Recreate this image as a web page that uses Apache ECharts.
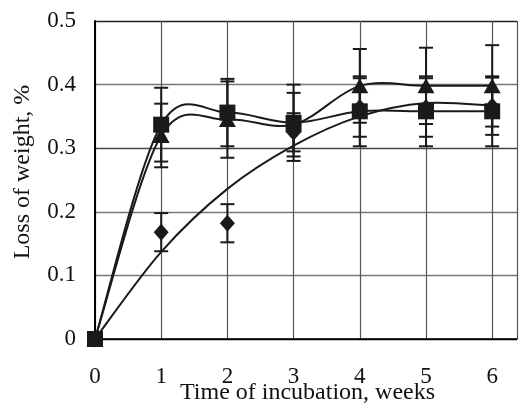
<!DOCTYPE html>
<html>
<head>
<meta charset="utf-8">
<script src="https://cdn.jsdelivr.net/npm/echarts@6/dist/echarts.min.js"></script>
<style>html,body{margin:0;padding:0;background:#fff}#c{width:520px;height:407px}</style>
</head>
<body>
<div id="c"></div>
<script>
const weeks = [0, 1, 2, 3, 4, 5, 6];
const squareVals = [0, 0.337, 0.356, 0.340, 0.358, 0.358, 0.358];
const squareErr = [0, 0.058, 0.053, 0.060, 0.055, 0.055, 0.055];
const triangleVals = [0, 0.320, 0.345, 0.337, 0.398, 0.398, 0.398];
const triangleErr = [0, 0.050, 0.060, 0.050, 0.058, 0.060, 0.064];
const diamondVals = [0, 0.168, 0.182, 0.325, 0.364, 0.364, 0.366];
const diamondErr = [0, 0.030, 0.030, 0.030, 0.046, 0.046, 0.045];
const trendWeeks = [0, 1, 2, 3, 4, 5, 6];
const trendVals = [0, 0.137, 0.236, 0.304, 0.350, 0.371, 0.367];
const yTicks = [0, 0.1, 0.2, 0.3, 0.4, 0.5];
const xTicks = [0, 1, 2, 3, 4, 5, 6];

const FONT = 'Liberation Serif';
const INK = '#1a1a1a';

function pts(xs, ys) { return xs.map((x, i) => [x, ys[i]]); }
function errData(xs, ys, es) {
  return xs.map((x, i) => [x, ys[i] - es[i], ys[i] + es[i]]).filter((d, i) => es[i] > 0);
}
function errSeries(data) {
  return {
    type: 'custom', data: data, z: 2, silent: true,
    renderItem: function (params, api) {
      const x = api.value(0);
      const lo = api.coord([x, api.value(1)]);
      const hi = api.coord([x, api.value(2)]);
      const w = 7;
      const st = { stroke: INK, lineWidth: 2 };
      return { type: 'group', children: [
        { type: 'line', shape: { x1: lo[0], y1: lo[1], x2: hi[0], y2: hi[1] }, style: st },
        { type: 'line', shape: { x1: lo[0] - w, y1: lo[1], x2: lo[0] + w, y2: lo[1] }, style: st },
        { type: 'line', shape: { x1: hi[0] - w, y1: hi[1], x2: hi[0] + w, y2: hi[1] }, style: st }
      ]};
    }
  };
}
// Spreadsheet-style smoothed line (Catmull-Rom through the data points)
function smoothSeries(xs, ys, z) {
  const n = xs.length;
  return {
    type: 'custom', data: pts(xs, ys), z: z, silent: true,
    renderItem: function (params, api) {
      const i = params.dataIndex;
      if (i >= n - 1) return null;
      const c = j => api.coord([xs[Math.max(0, Math.min(n - 1, j))], ys[Math.max(0, Math.min(n - 1, j))]]);
      const p0 = c(i - 1), p1 = c(i), p2 = c(i + 1), p3 = c(i + 2);
      return {
        type: 'bezierCurve',
        shape: {
          x1: p1[0], y1: p1[1], x2: p2[0], y2: p2[1],
          cpx1: p1[0] + (p2[0] - p0[0]) / 6, cpy1: p1[1] + (p2[1] - p0[1]) / 6,
          cpx2: p2[0] - (p3[0] - p1[0]) / 6, cpy2: p2[1] - (p3[1] - p1[1]) / 6
        },
        style: { stroke: INK, lineWidth: 2, fill: null }
      };
    }
  };
}

const chart = echarts.init(document.getElementById('c'), null, { renderer: 'canvas' });
chart.setOption({
  animation: false,
  backgroundColor: '#fff',
  grid: { left: 95, right: 0, top: 21, bottom: 68, containLabel: false },
  xAxis: {
    type: 'value', min: 0, max: 6.375, interval: 1,
    axisLine: { show: true, onZero: false, lineStyle: { color: '#000', width: 1.5 } },
    axisTick: { show: false },
    axisLabel: {
      margin: 26, color: '#111', fontFamily: FONT, fontSize: 23,
      formatter: v => (xTicks.indexOf(v) >= 0 ? String(v) : '')
    },
    splitLine: { show: true, lineStyle: { color: '#555', width: 1.2 } }
  },
  yAxis: {
    type: 'value', min: 0, max: 0.5, interval: 0.1,
    axisLine: { show: true, lineStyle: { color: '#000', width: 2 } },
    axisTick: { show: false },
    axisLabel: {
      margin: 19, color: '#111', fontFamily: FONT, fontSize: 23,
      formatter: v => { const t = yTicks.find(k => Math.abs(k - v) < 1e-9); return t === undefined ? '' : (t === 0 ? '0' : t.toFixed(1)); }
    },
    splitLine: { show: true, lineStyle: { color: ['#000', '#777', '#777', '#444', '#777', '#222'], width: 1.3 } }
  },
  graphic: [
    { type: 'text', left: 180, top: 381, style: { text: 'Time of incubation, weeks', font: '24px "Liberation Serif"', fill: '#111' } },
    { type: 'text', x: 23, y: 172, rotation: Math.PI / 2, style: { text: 'Loss of weight, %', font: '24px "Liberation Serif"', fill: '#111', align: 'center', verticalAlign: 'middle' } }
  ],
  series: [
    errSeries(errData(weeks, diamondVals, diamondErr)),
    errSeries(errData(weeks, squareVals, squareErr)),
    errSeries(errData(weeks, triangleVals, triangleErr)),
    smoothSeries(trendWeeks, trendVals, 3),
    smoothSeries(weeks, triangleVals, 3),
    smoothSeries(weeks, squareVals, 3),
    { type: 'scatter', data: pts(weeks, triangleVals), z: 4,
      symbol: 'triangle', symbolSize: [17, 15], itemStyle: { color: INK, opacity: 1 } },
    { type: 'scatter', data: pts(weeks, squareVals), z: 5,
      symbol: 'rect', symbolSize: 16, itemStyle: { color: INK, opacity: 1 } },
    { type: 'scatter', data: pts(weeks, diamondVals), z: 6,
      symbol: 'diamond', symbolSize: [15, 17], itemStyle: { color: INK, opacity: 1 } }
  ]
});
</script>
</body>
</html>
